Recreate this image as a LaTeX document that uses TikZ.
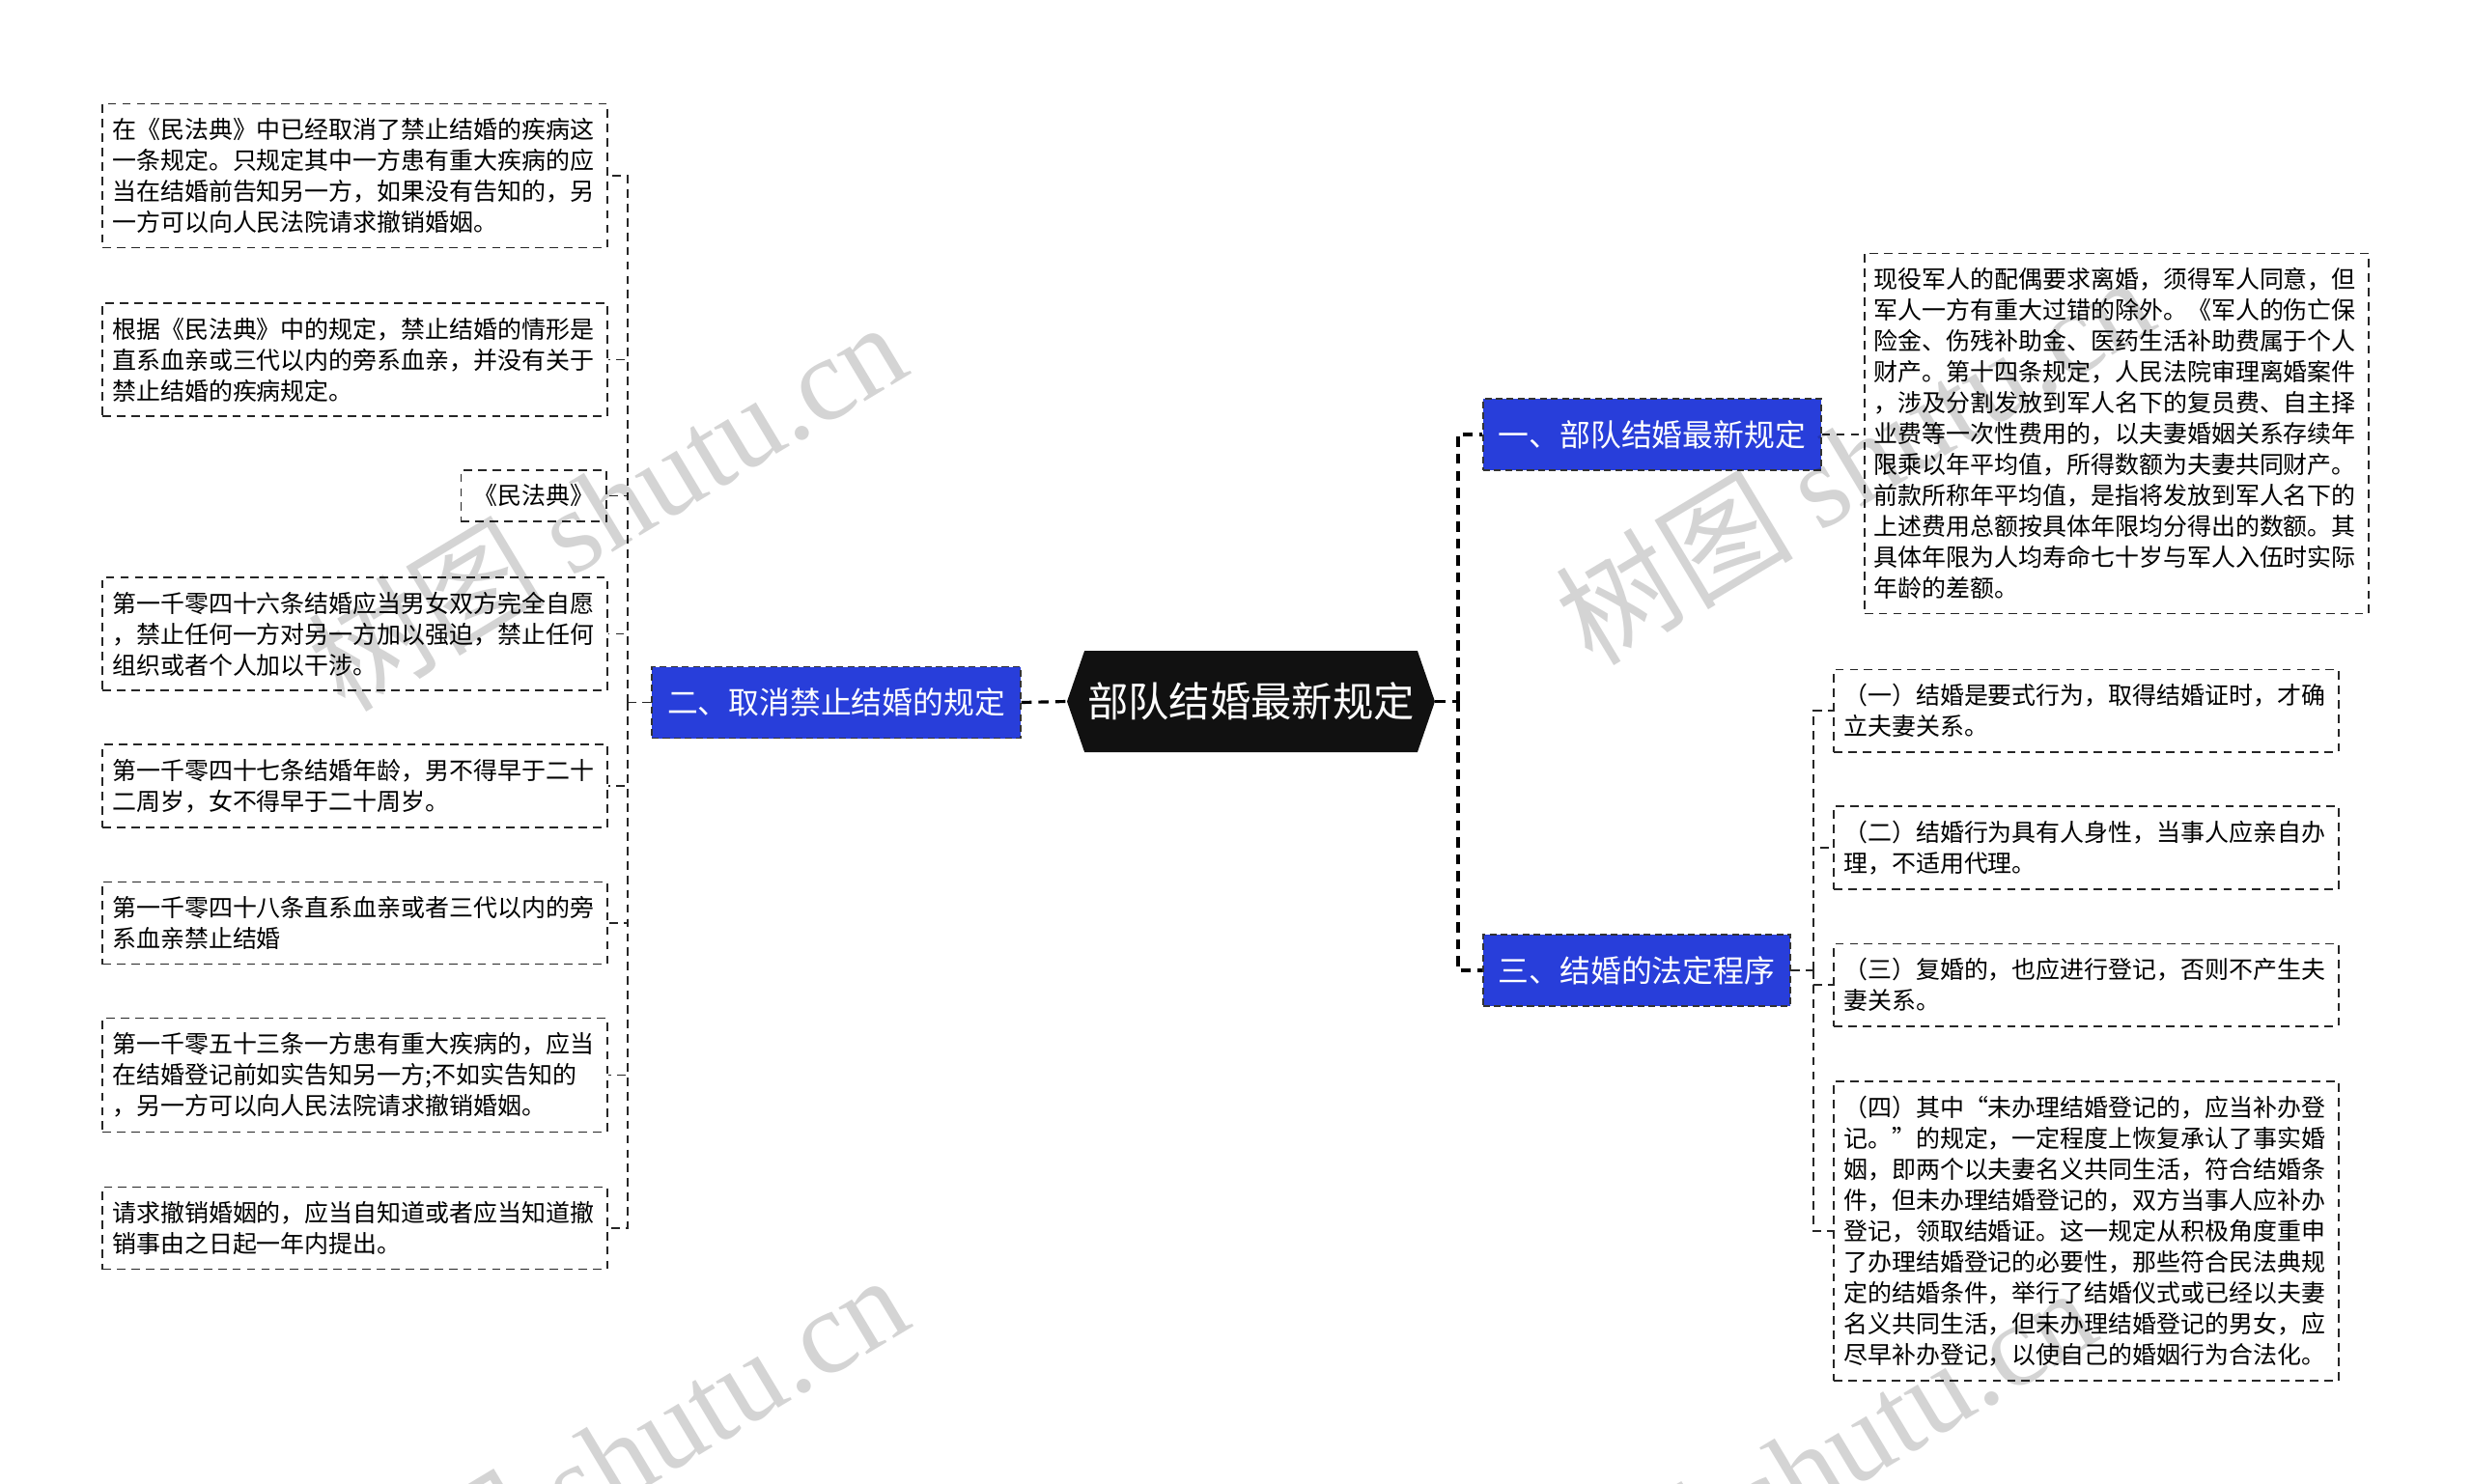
\documentclass[tikz,border=0pt]{standalone}
\usepackage{fontspec}
\setmainfont{Noto Sans CJK SC}
\newfontfamily\wmfont{Liberation Serif}
\usetikzlibrary{shapes.symbols}
\definecolor{branchblue}{RGB}{40,62,218}
\definecolor{rootblack}{RGB}{17,17,17}

\begin{document}
\begin{tikzpicture}[
        note/.style={
            rectangle,
            draw=black!85,
            line width=0.9pt,
            dash pattern=on 5pt off 3.5pt,
            fill=white,
            align=left,
            font=\fontsize{14.2pt}{18.2pt}\selectfont,
            inner xsep=0.2cm,
            inner ysep=0.3cm
        },
        longnote/.style={note, text width=10.05cm},
        branch/.style={
            rectangle,
            draw=black!80,
            line width=0.9pt,
            dash pattern=on 4pt off 2.5pt,
            fill=branchblue,
            text=white,
            font=\fontsize{18.1pt}{22pt}\selectfont,
            minimum height=1.48cm,
            inner xsep=0.32cm
        },
        rootbox/.style={
            signal,
            signal to=east and west,
            signal pointer angle=142,
            fill=rootblack,
            text=white,
            font=\fontsize{24.1pt}{28pt}\selectfont,
            minimum height=2.1cm,
            inner xsep=0.06cm
        },
        link/.style={draw=black!85, line width=0.9pt, dash pattern=on 5pt off 3.5pt},
        trunk/.style={draw=black, line width=1.8pt, dash pattern=on 6pt off 4pt},
        wmark/.style={text=black, opacity=0.17, rotate=31, font=\fontsize{70pt}{70pt}\selectfont}
    ]

    \useasboundingbox (0,0) rectangle (51.2,-30.74);

    \node[rootbox] (root) at (25.91,-14.53) {部队结婚最新规定};

    \node[branch] (b2) at (17.32,-14.55) {二、取消禁止结婚的规定};
    \node[branch, anchor=west] (b1) at (30.7,-9.0) {一、部队结婚最新规定};
    \node[branch, anchor=west] (b3) at (30.7,-20.1) {三、结婚的法定程序};

    \node[longnote] (l1) at (7.35,-3.64) {在《民法典》中已经取消了禁止结婚的疾病这\\一条规定。只规定其中一方患有重大疾病的应\\当在结婚前告知另一方，如果没有告知的，另\\一方可以向人民法院请求撤销婚姻。};
    \node[longnote] (l2) at (7.35,-7.45) {根据《民法典》中的规定，禁止结婚的情形是\\直系血亲或三代以内的旁系血亲，并没有关于\\禁止结婚的疾病规定。};
    \node[note, anchor=east, inner xsep=0.26cm] (l3) at (12.58,-10.27) {《民法典》};
    \node[longnote] (l4) at (7.35,-13.13) {第一千零四十六条结婚应当男女双方完全自愿\\，禁止任何一方对另一方加以强迫，禁止任何\\组织或者个人加以干涉。};
    \node[longnote] (l5) at (7.35,-16.28) {第一千零四十七条结婚年龄，男不得早于二十\\二周岁，女不得早于二十周岁。};
    \node[longnote] (l6) at (7.35,-19.12) {第一千零四十八条直系血亲或者三代以内的旁\\系血亲禁止结婚};
    \node[longnote] (l7) at (7.35,-22.27) {第一千零五十三条一方患有重大疾病的，应当\\在结婚登记前如实告知另一方;不如实告知的\\，另一方可以向人民法院请求撤销婚姻。};
    \node[longnote] (l8) at (7.35,-25.44) {请求撤销婚姻的，应当自知道或者应当知道撤\\销事由之日起一年内提出。};

    \node[longnote] (r1) at (43.84,-8.98) {现役军人的配偶要求离婚，须得军人同意，但\\军人一方有重大过错的除外。《军人的伤亡保\\险金、伤残补助金、医药生活补助费属于个人\\财产。第十四条规定，人民法院审理离婚案件\\，涉及分割发放到军人名下的复员费、自主择\\业费等一次性费用的，以夫妻婚姻关系存续年\\限乘以年平均值，所得数额为夫妻共同财产。\\前款所称年平均值，是指将发放到军人名下的\\上述费用总额按具体年限均分得出的数额。其\\具体年限为人均寿命七十岁与军人入伍时实际\\年龄的差额。};

    \node[longnote] (c1) at (43.21,-14.72) {（一）结婚是要式行为，取得结婚证时，才确\\立夫妻关系。};
    \node[longnote] (c2) at (43.21,-17.56) {（二）结婚行为具有人身性，当事人应亲自办\\理，不适用代理。};
    \node[longnote] (c3) at (43.21,-20.4) {（三）复婚的，也应进行登记，否则不产生夫\\妻关系。};
    \node[longnote] (c4) at (43.21,-25.5) {（四）其中“未办理结婚登记的，应当补办登\\记。”的规定，一定程度上恢复承认了事实婚\\姻，即两个以夫妻名义共同生活，符合结婚条\\件，但未办理结婚登记的，双方当事人应补办\\登记，领取结婚证。这一规定从积极角度重申\\了办理结婚登记的必要性，那些符合民法典规\\定的结婚条件，举行了结婚仪式或已经以夫妻\\名义共同生活，但未办理结婚登记的男女，应\\尽早补办登记，以使自己的婚姻行为合法化。};

    \coordinate (ljoin) at (13.0,-14.55);
    \coordinate (rjoin) at (30.2,-14.53);
    \coordinate (cjoin) at (37.56,-20.1);

    \draw[trunk] (b2.east) -- (root.west);
    \draw[trunk] (root.east) -- (rjoin);
    \draw[trunk] (rjoin) |- (b1.west);
    \draw[trunk] (rjoin) |- (b3.west);

    \draw[link] (b1.east) -- (r1.west |- b1.east);

    \draw[link] (b2.west) -- (ljoin);
    \draw[link] (ljoin) |- (l1.east);
    \draw[link] (ljoin) |- (l2.east);
    \draw[link] (ljoin) |- (l3.east);
    \draw[link] (ljoin) |- (l4.east);
    \draw[link] (ljoin) |- (l5.east);
    \draw[link] (ljoin) |- (l6.east);
    \draw[link] (ljoin) |- (l7.east);
    \draw[link] (ljoin) |- (l8.east);

    \draw[link] (b3.east) -- (cjoin);
    \draw[link] (cjoin) |- (c1.west);
    \draw[link] (cjoin) |- (c2.west);
    \draw[link] (cjoin) |- (c3.west);
    \draw[link] (cjoin) |- (c4.west);

    \node[wmark] (wm1) at (12.55,-10.45) {树图 {\wmfont shutu.cn}};
    \node[wmark] (wm2) at (38.4,-9.5) {树图 {\wmfont shutu.cn}};
    \node[wmark] (wm3) at (12.6,-30.2) {树图 {\wmfont shutu.cn}};
    \node[wmark] (wm4) at (37.2,-30.45) {树图 {\wmfont shutu.cn}};

    \end{tikzpicture}
\end{document}
